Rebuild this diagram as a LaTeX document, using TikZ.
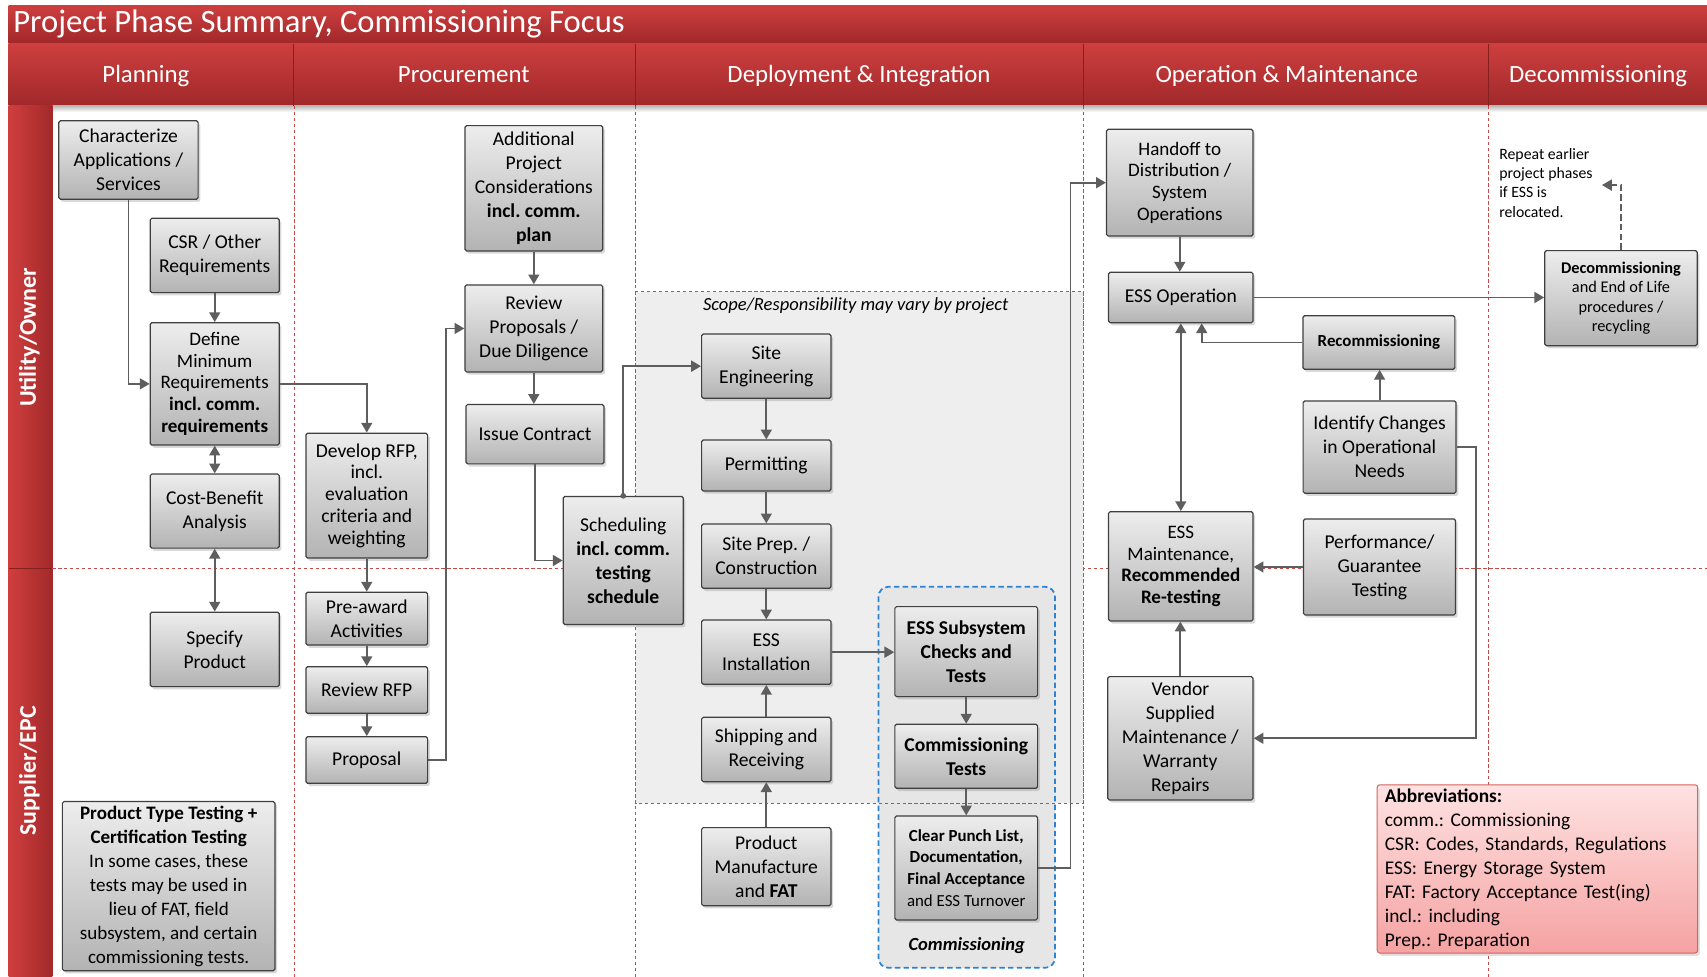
\documentclass[tikz,border=0pt]{standalone}
\usepackage{fontspec}
\setmainfont{Carlito}
\usetikzlibrary{arrows.meta,shadows,calc}
\frenchspacing

\definecolor{hdrtop}{HTML}{CE3F3F}
\definecolor{hdrbot}{HTML}{A0282A}
\definecolor{hdrline}{HTML}{86201F}
\definecolor{lanel}{HTML}{D03E3E}
\definecolor{laner}{HTML}{A2292A}
\definecolor{lanedash}{HTML}{C24A48}
\definecolor{boxline}{HTML}{3F3F3F}
\definecolor{boxtop}{HTML}{EDEDED}
\definecolor{boxbot}{HTML}{B3B3B3}
\definecolor{arrowgrey}{HTML}{5E5E5E}
\definecolor{scopefill}{HTML}{EEEEEE}
\definecolor{commfill}{HTML}{E6E6E6}
\definecolor{commblue}{HTML}{2B83D2}
\definecolor{abbrtop}{HTML}{FFE2E2}
\definecolor{abbrbot}{HTML}{F5A2A2}
\definecolor{abbrline}{HTML}{D8605C}

\tikzset{
  stepbox/.style={draw=boxline, line width=1.1pt, rounded corners=1.5pt,
    top color=boxtop, bottom color=boxbot,
    drop shadow={opacity=0.3, shadow xshift=2pt, shadow yshift=-2.5pt},
    align=center, inner sep=0pt, text=black,
    font=\fontsize{18}{22}\selectfont},
  arr/.style={draw=arrowgrey, line width=1.7pt, -{Triangle[length=9pt,width=10pt]}},
  darr/.style={draw=arrowgrey, line width=1.7pt,
    {Triangle[length=9pt,width=10pt]}-{Triangle[length=9pt,width=10pt]}},
  lanesep/.style={draw=lanedash, line width=0.8pt, dash pattern=on 3pt off 2.5pt},
  hdrtext/.style={text=white, anchor=base, font=\fontsize{22.8}{26}\selectfont},
  lanetext/.style={text=white, rotate=90, font=\bfseries\fontsize{22}{26}\selectfont},
}

% node from its corner coordinates: [options]{name}{x1}{y1}{x2}{y2}{text}
\newcommand\stepnode[7][]{%
  \node[stepbox,#1,minimum width={(#5-#3)*1pt},minimum height={(#6-#4)*1pt}]
    (#2) at ({(#3+#5)/2},{(#4+#6)/2}) {#7};}

\begin{document}
\begin{tikzpicture}[x=1pt,y=-1pt]
\useasboundingbox (0,0) rectangle (1568,897);

% ---------- title and phase header ----------
\path[top color=hdrtop, bottom color=hdrbot] (8,5) rectangle (1568,40);
\node[anchor=base west, text=white, inner sep=0, font=\fontsize{30}{34}\selectfont]
  (title) at (12,30) {Project Phase Summary, Commissioning Focus};
\path[top color=hdrtop, bottom color=hdrbot] (8,40) rectangle (1568,97);
\path[top color=black!28, bottom color=white] (48,97) rectangle (1568,103);
\foreach \x in {270,584,995,1367} \draw[hdrline, line width=0.9pt] (\x,40) -- (\x,97);
\node[hdrtext] (hplan) at (134,76) {Planning};
\node[hdrtext] (hproc) at (426,76) {Procurement};
\node[hdrtext] (hdepl) at (789,76) {Deployment \& Integration};
\node[hdrtext] (hoper) at (1182,76) {Operation \& Maintenance};
\node[hdrtext] (hdeco) at (1468,76) {Decommissioning};

% ---------- swim lanes ----------
\path[left color=lanel, right color=laner] (8,97) rectangle (48,897);
\draw[hdrline, line width=0.6pt] (8,522) -- (48,522);
\node[lanetext] (lowner) at (27,310) {Utility/Owner};
\node[lanetext] (lsupp) at (27,708) {Supplier/EPC};

\foreach \x in {270,584,995,1367} \draw[lanesep] (\x,97) -- (\x,897);
\draw[lanesep] (48,522) -- (1568,522);

% ---------- scope region and commissioning group ----------
\path[fill=scopefill] (584,268) rectangle (995,738);
\path[fill=commfill, rounded corners=9pt] (807,539) rectangle (969,889);
\draw[lanesep] (584,268) rectangle (995,738);
\draw[commblue, line width=1.6pt, dash pattern=on 5pt off 3pt, rounded corners=9pt]
  (807,539) rectangle (969,889);
\node[font=\itshape\fontsize{17}{20}\selectfont] (scope) at (786,281)
  {Scope/Responsibility may vary by project};
\node[font=\bfseries\itshape\fontsize{17}{20}\selectfont] (commlbl) at (888,869)
  {Commissioning};

% ---------- planning ----------
\stepnode{char}{54}{111}{182}{183}{Characterize\\Applications /\\Services}
\stepnode{csr}{138}{200.5}{256.5}{268.8}{CSR / Other\\Requirements}
\stepnode[font=\fontsize{17.5}{20}\selectfont]{define}{138}{296.4}{256.5}{408.8}
  {Define\\Minimum\\Requirements\\\textbf{incl. comm.}\\\textbf{requirements}}
\stepnode{cba}{138}{435.4}{256.5}{503.5}{Cost-Benefit\\Analysis}
\stepnode{spec}{138}{562.3}{256.5}{630.7}{Specify\\Product}
\stepnode[font=\fontsize{17.5}{22}\selectfont]{ptt}{57.3}{736.3}{252.6}{891.6}
  {\textbf{Product Type Testing +}\\\textbf{Certification Testing}\\In some cases, these\\tests may be used in\\lieu of FAT, field\\subsystem, and certain\\commissioning tests.}

% ---------- procurement ----------
\stepnode[font=\fontsize{18}{20}\selectfont]{rfp}{281}{397.9}{392.8}{512.6}
  {Develop RFP,\\incl.\\evaluation\\criteria and\\weighting}
\stepnode{preaward}{281}{544}{392.8}{592.5}{Pre-award\\Activities}
\stepnode{reviewrfp}{281}{612.4}{392.8}{655.2}{Review RFP}
\stepnode{proposal}{281}{676.7}{392.8}{719.5}{Proposal}
\stepnode{addl}{427.1}{115.4}{553.6}{230.5}
  {Additional\\Project\\Considerations\\\textbf{incl. comm.}\\\textbf{plan}}
\stepnode{revprop}{427.1}{261.7}{553.6}{341.7}{Review\\Proposals /\\Due Diligence}
\stepnode{issue}{428}{371.6}{554.8}{426.1}{Issue Contract}
\stepnode{sched}{517.4}{456}{627.6}{573.7}
  {Scheduling\\\textbf{incl. comm.}\\\textbf{testing}\\\textbf{schedule}}

% ---------- deployment & integration ----------
\stepnode{siteeng}{644.5}{306.8}{763.3}{365.9}{Site\\Engineering}
\stepnode{permit}{644.5}{404.2}{763.3}{451}{Permitting}
\stepnode{siteprep}{644.5}{481.3}{763.3}{540.4}{Site Prep. /\\Construction}
\stepnode{essinst}{644.5}{569.5}{763.3}{628.6}{ESS\\Installation}
\stepnode{ship}{644.5}{658.9}{763.3}{718}{Shipping and\\Receiving}
\stepnode{prodman}{644.5}{760.2}{763.3}{831.9}{Product\\Manufacture\\and \textbf{FAT}}
\stepnode[font=\bfseries\fontsize{18}{22}\selectfont]{esssub}{822}{557.2}{953.1}{639.9}
  {ESS Subsystem\\Checks and\\Tests}
\stepnode[font=\bfseries\fontsize{18}{22}\selectfont]{commtest}{822}{665.3}{953.1}{724.1}
  {Commissioning\\Tests}
\stepnode[font=\fontsize{15.5}{20}\selectfont]{punch}{822}{749.5}{953.1}{845}
  {\textbf{Clear Punch List,}\\\textbf{Documentation,}\\\textbf{Final Acceptance}\\and ESS Turnover}

% ---------- operation & maintenance ----------
\stepnode[font=\fontsize{17.5}{20}\selectfont]{handoff}{1016.4}{118.8}{1151}{216.8}
  {Handoff to\\Distribution /\\System\\Operations}
\stepnode{essop}{1018.3}{250.1}{1151}{296.4}{ESS Operation}
\stepnode[font=\bfseries\fontsize{15.5}{19}\selectfont]{recomm}{1196.8}{290}{1336.4}{339.2}
  {Recommissioning}
\stepnode{identify}{1197}{368.3}{1337.5}{453}{Identify Changes\\in Operational\\Needs}
\stepnode[font=\fontsize{17.5}{20}\selectfont]{essmaint}{1018.3}{470}{1151}{570.4}
  {ESS\\Maintenance,\\\textbf{Recommended}\\\textbf{Re-testing}}
\stepnode{perf}{1197.3}{476.7}{1337}{564.9}{Performance/\\Guarantee\\Testing}
\stepnode{vendor}{1017.5}{621.5}{1151}{734.8}
  {Vendor\\Supplied\\Maintenance /\\Warranty\\Repairs}

% ---------- decommissioning ----------
\stepnode[font=\fontsize{15}{18}\selectfont]{decomm}{1419}{230.2}{1559}{317.5}
  {\textbf{Decommissioning}\\and End of Life\\procedures /\\recycling}
\node[anchor=north west, align=left, inner sep=0pt, font=\fontsize{14.5}{17.8}\selectfont]
  (repeat) at (1377,136) {Repeat earlier\\project phases\\if ESS is\\relocated.};
\coordinate (relocate) at (1471.5,170);

% ---------- abbreviations ----------
\node[anchor=north west, draw=abbrline, line width=0.9pt, rounded corners=2.5pt,
  top color=abbrtop, bottom color=abbrbot,
  drop shadow={opacity=0.25, shadow xshift=2pt, shadow yshift=-2.5pt},
  minimum width=294.4pt, minimum height=154.6pt, text width=280.4pt,
  inner xsep=7pt, inner ysep=0pt, align=left, font=\fontsize{17.8}{22}\selectfont]
  (abbr) at (1264.6,720.4)
  {\textbf{Abbreviations:}\\comm.: Commissioning\\CSR: Codes, Standards, Regulations\\ESS: Energy Storage System\\FAT: Factory Acceptance Test(ing)\\incl.: including\\Prep.: Preparation};

% ---------- connectors ----------
\draw[arr] (char.south) |- (define.west);
\draw[arr] (csr) -- (define);
\draw[darr] (define) -- (cba);
\draw[darr] (cba) -- (spec);
\draw[arr] (define.east) -| (rfp.north);
\draw[arr] (rfp) -- (preaward);
\draw[arr] (preaward) -- (reviewrfp);
\draw[arr] (reviewrfp) -- (proposal);
\draw[arr] (proposal.east) -- ++(16.7,0) |- (revprop.west);
\draw[arr] (addl) -- (revprop);
\draw[arr] (revprop.south) -- (revprop.south |- issue.north);
\draw[arr] (issue.south) |- (sched.west);
\draw[arr] (sched.north) |- (siteeng.west);
\fill[arrowgrey] (sched.north) circle (2.6);
\draw[arr] (siteeng) -- (permit);
\draw[arr] (permit) -- (siteprep);
\draw[arr] (siteprep) -- (essinst);
\draw[arr] (ship) -- (essinst);
\draw[arr] (prodman) -- (ship);
\draw[arr] (essinst.east) -- (essinst.east -| esssub.west);
\draw[arr] (esssub) -- (commtest);
\draw[arr] (commtest) -- (punch);
\draw[arr] (punch.east) -| ([xshift=-32.6pt]handoff.west) -- (handoff.west);
\draw[arr] (handoff.south) -- (handoff.south |- essop.north);
\draw[arr] (essop.east) -- (essop.east -| decomm.west);
\draw[arr] (recomm.west) -| ([xshift=19.2pt]essop.south);
\draw[arr] (identify.north) -- (identify.north |- recomm.south);
\draw[arr] (identify.east) -- ++(17.9,0) |- (vendor.east);
\draw[darr] (essop.south) -- (essop.south |- essmaint.north);
\draw[arr] (perf.west) -- (perf.west -| essmaint.east);
\draw[arr] (vendor.north) -- (vendor.north |- essmaint.south);
\draw[arr, dash pattern=on 6pt off 3pt] (decomm.north) |- (relocate);

\end{tikzpicture}
\end{document}
